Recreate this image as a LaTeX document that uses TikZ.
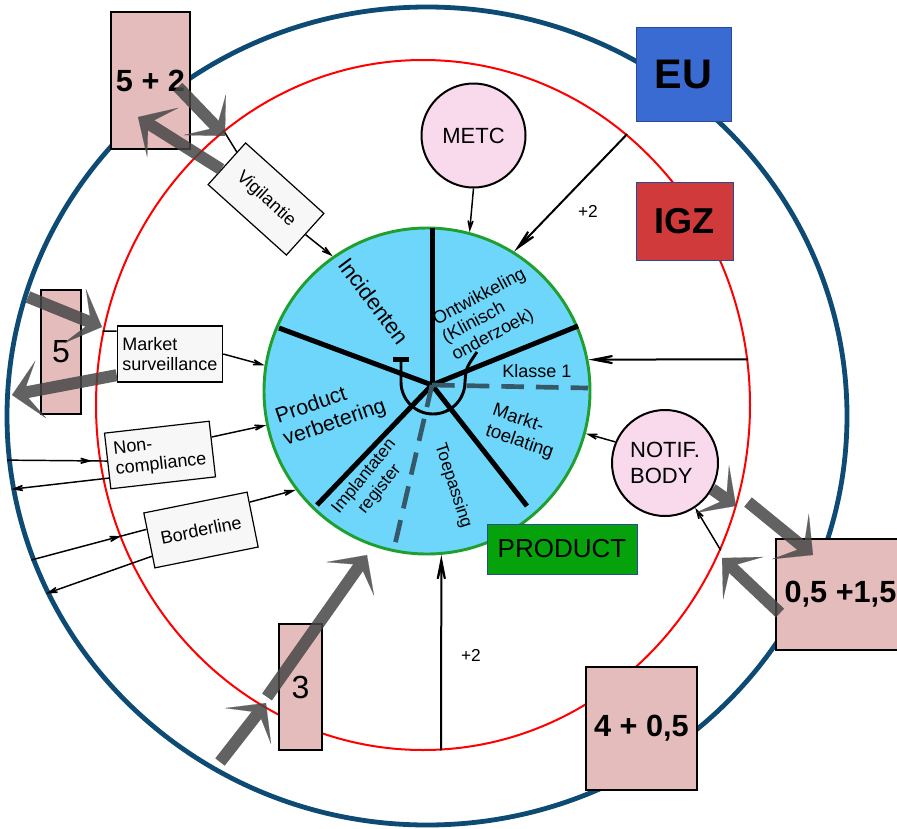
\documentclass[tikz,border=0pt]{standalone}
\usepackage{fontspec}
\setmainfont{Liberation Sans}
\usetikzlibrary{arrows.meta,shapes.geometric,calc,decorations.markings}

\definecolor{navyring}{HTML}{0D4A74}
\definecolor{pinkbox}{HTML}{E4BCBC}
\definecolor{pinkcirc}{HTML}{F8DAEC}
\definecolor{pieblue}{HTML}{6ED6FA}
\definecolor{piegreen}{HTML}{1FA02E}
\definecolor{eublue}{HTML}{3A6BD2}
\definecolor{igzred}{HTML}{D03A3A}
\definecolor{prodgreen}{HTML}{06A20C}
\definecolor{dashgray}{HTML}{36596A}

\tikzset{
  ring/.style={ellipse, inner sep=0pt},
  pinkrect/.style={draw=black, line width=1.5pt, fill=pinkbox, inner sep=0pt,
    font=\fontsize{23}{26}\selectfont\bfseries},
  flowbox/.style={draw=black, line width=0.9pt, fill=white!97!black, inner sep=2pt,
    minimum width=79pt, minimum height=42pt, align=left,
    font=\fontsize{13.5}{15.5}\selectfont},
  agency/.style={circle, draw=black, line width=1.5pt, fill=pinkcirc, inner sep=0pt,
    align=left, font=\fontsize{16.5}{19}\selectfont},
  pietext/.style={align=left, inner sep=0pt, font=\fontsize{13}{15}\selectfont},
  spoke/.style={line width=3.75pt},
  divider/.style={line width=3.5pt, draw=dashgray, dash pattern=on 17pt off 9pt},
  thinarrow/.style={line width=1.1pt, -{Stealth[length=14pt,width=8pt,inset=8pt]}},
  midarrow/.style={line width=1.1pt, postaction={decorate},
    decoration={markings, mark=at position #1 with {\arrow{Stealth[length=14pt,width=8pt,inset=8pt]}}}},
  longarrow/.style={line width=1.5pt, -{Stealth[length=36pt,width=14pt,inset=25pt]}},
  grayarrow/.style={line width=9pt, draw=black!72,
    -{Stealth[length=22pt,width=44pt,inset=13pt,line width=0.1pt]}},
  smalltext/.style={font=\fontsize{13}{15}\selectfont}
}

\begin{document}
\begin{tikzpicture}[x=0.75pt,y=-0.75pt]
\useasboundingbox (0,0) rectangle (897,829);
\clip (0,0) rectangle (897,829);

% rings
\node[ring, draw=navyring, line width=3.6pt, minimum width=630pt, minimum height=613.5pt] (outer) at (427,416) {};
\node[ring, draw=red, line width=1.5pt, minimum width=490.5pt, minimum height=517.5pt] (inner) at (423,405) {};

% product pie
\node[circle, draw=piegreen, line width=2.2pt, fill=pieblue, minimum size=244.5pt, inner sep=0pt] (pie) at (427,391) {};
\coordinate (hub) at (432,385);
\foreach \p in {(432,228),(578,326),(527,506),(317,505),(279,328)}
  \draw[spoke] (hub) -- \p;
\draw[line width=2.2pt, {Bar[width=12pt,line width=3.5pt]}-] (401,357) -- (401,382)
  arc[start angle=180, end angle=0, radius=32] .. controls (466,368) .. (477,352);
\draw[divider] (hub) -- (588,388);
\draw[divider] (hub) -- (393,553);

\node[pietext, rotate=-53, font=\fontsize{16.5}{19}\selectfont] (incid) at (374,301) {Incidenten};
\node[pietext, rotate=28, font=\fontsize{13.5}{15}\selectfont] (ontw) at (489,315) {Ontwikkeling\\(Klinisch\\onderzoek)};
\node[pietext, font=\fontsize{13.5}{15}\selectfont] (klasse) at (537,371) {Klasse 1};
\node[pietext, rotate=-19, font=\fontsize{14}{16}\selectfont] (markt) at (523,432) {Markt-\\toelating};
\node[pietext] (toep) at (453,486) [rotate=-72] {Toepassing};
\node[pietext, rotate=51, align=center] (impl) at (372,483) {Implantaten\\register};
\node[pietext, rotate=19, font=\fontsize{16}{18}\selectfont] (prodv) at (331,412) {Product\\verbetering};

% actors
\node[agency, minimum size=78pt] (metc) at (473.5,135.5) {METC};
\node[agency, minimum size=79.5pt] (notif) at (665,463) {NOTIF.\\BODY};
\node[draw=eublue!70!black, fill=eublue, minimum width=71.25pt, minimum height=70.5pt,
  font=\fontsize{31}{34}\selectfont\bfseries] (eu) at (683.5,74) {EU};
\node[draw=eublue!70!black, fill=igzred, minimum width=72.75pt, minimum height=58.5pt,
  font=\fontsize{27}{30}\selectfont\bfseries] (igz) at (684.5,221) {IGZ};
\node[draw=eublue!70!black, fill=prodgreen, minimum width=112.5pt, minimum height=37.5pt,
  font=\fontsize{19.5}{22}\selectfont] (product) at (562,549) {PRODUCT};

% flow boxes
\node[flowbox, rotate=-42] (vig) at (266,199) {Vigilantie};
\node[flowbox] (mkt) at (170,354) {Market\\surveillance};
\node[flowbox, rotate=6.5] (ncomp) at (160,455) {Non-\\compliance};
\node[flowbox, rotate=11.4, align=center] (bline) at (201,530) {Borderline};

% effort boxes
\node[pinkrect, minimum width=59.25pt, minimum height=102.75pt] (box52) at (150.5,80.5) {5 + 2};
\node[pinkrect, minimum width=30pt, minimum height=93pt, font=\fontsize{24}{27}\selectfont] (box5) at (61,352) {5};
\node[pinkrect, minimum width=32.25pt, minimum height=94.5pt, font=\fontsize{24}{27}\selectfont] (box3) at (300.5,687) {3};
\node[pinkrect, minimum width=83.25pt, minimum height=92.25pt] (box405) at (641.5,728.5) {4 + 0,5};
\node[pinkrect, minimum width=96.75pt, minimum height=83.25pt] (box0515) at (840.5,594.5) {0,5 +1,5};

% thin connectors
\draw[thinarrow] (metc.south) -- (pie.75);
\draw[longarrow] (inner.53) -- (pie.58);
\node[smalltext] (plus2a) at (588,211) {+2};
\draw[longarrow] (inner.8) -- (pie.11);
\draw[thinarrow] (notif.157) -- (pie.-15);
\draw[thinarrow] (inner.-26) -- (notif.-56);
\draw[longarrow] (inner.-87) -- (pie.-85);
\node[smalltext] (plus2b) at (471,655) {+2};
\draw[thinarrow] (vig.east) -- (pie.125);
\draw[line width=1.1pt] (inner.126) -- ($(vig.north west)!0.23!(vig.south west)$);
\draw[line width=1.1pt] (inner.167) -- ($(mkt.north west)!0.1!(mkt.south west)$);
\draw[thinarrow] (mkt.east) -- (pie.171);
\draw[midarrow=0.85] (outer.186) -- (ncomp.west);
\draw[thinarrow] ($(ncomp.north west)!0.8!(ncomp.south west)$) -- (outer.190);
\draw[thinarrow] ($(ncomp.north east)!0.29!(ncomp.south east)$) -- (pie.192);
\draw[midarrow=0.78] (outer.200) -- ($(bline.north west)!0.3!(bline.south west)$);
\draw[thinarrow] ($(bline.north west)!0.78!(bline.south west)$) -- (outer.205);
\draw[thinarrow] ($(bline.north east)!0.19!(bline.south east)$) -- (pie.217);

% effort flows
\coordinate (a52out) at (178,87);
\coordinate (a52tip) at (225,136);
\coordinate (a52in) at (138,117);
\coordinate (a5out) at (28,297);
\coordinate (a5tip) at (102,327);
\coordinate (a5in) at (12,395);
\coordinate (a3low) at (220,762);
\coordinate (a3mid) at (266,703);
\coordinate (a3start) at (267,697);
\coordinate (a3tip) at (367,555);
\coordinate (anbmid) at (736,506);
\coordinate (anbstart) at (748,502);
\coordinate (anbtip) at (813,555);
\coordinate (aboxout) at (780,613);
\coordinate (aboxtip) at (722,558);
\begin{scope}[transparency group, opacity=0.85]
\draw[grayarrow] (a52out) -- (a52tip);
\draw[grayarrow] ($(vig.north west)!0.64!(vig.south west)$) -- (a52in);
\draw[grayarrow] (a5out) -- (a5tip);
\draw[grayarrow] ($(mkt.north west)!0.87!(mkt.south west)$) -- (a5in);
\draw[grayarrow] (a3low) -- (a3mid);
\draw[grayarrow] (a3start) -- (a3tip);
\draw[grayarrow] (notif.-29) -- (anbmid);
\draw[grayarrow] (anbstart) -- (anbtip);
\draw[grayarrow] (aboxout) -- (aboxtip);
\end{scope}
\end{tikzpicture}
\end{document}
